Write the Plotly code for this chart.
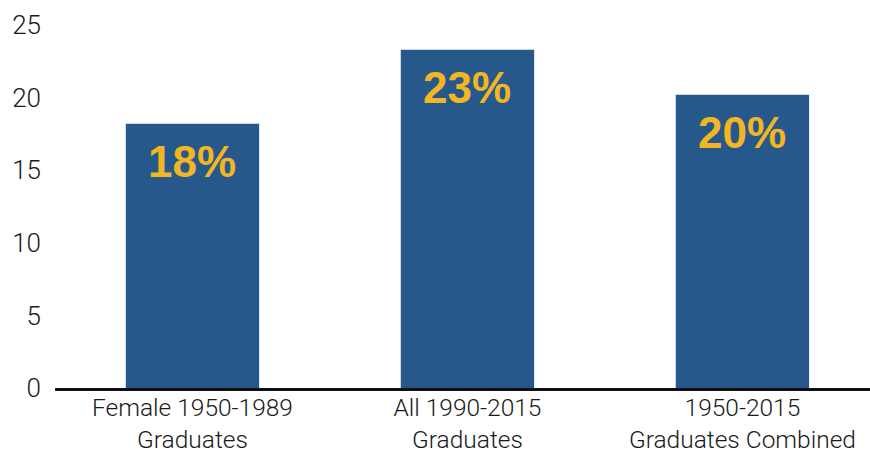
import plotly.graph_objects as go

# Share of graduates (percent)
categories = ["Female 1950-1989<br>Graduates", "All 1990-2015<br>Graduates", "1950-2015<br>Graduates Combined"]
values = [18.2, 23.3, 20.2]
y_ticks = [0, 5, 10, 15, 20, 25]

BAR_COLOR = "#27588B"
LABEL_COLOR = "#F2B623"
TEXT_COLOR = "#1a1a1a"
FONT = "Roboto"

fig = go.Figure()
fig.add_trace(go.Bar(
    x=list(range(len(categories))),
    y=values,
    marker=dict(color=BAR_COLOR, line=dict(width=0)),
    width=0.485,
    hoverinfo="skip",
))

# value labels just inside the top of each bar
for i, v in enumerate(values):
    fig.add_annotation(
        x=i, y=v, text=f"{v:.0f}%", showarrow=False,
        yanchor="top", yshift=-11,
        font=dict(family="Liberation Sans", size=44, color=LABEL_COLOR, weight="bold"),
    )

fig.update_layout(
    width=870, height=454,
    margin=dict(l=55, r=0, t=25, b=66),
    plot_bgcolor="white", paper_bgcolor="white",
    showlegend=False,
    font=dict(family=FONT, size=26, color=TEXT_COLOR, weight=300),
)
fig.update_xaxes(
    range=[-0.5, 2.464],
    tickmode="array", tickvals=list(range(len(categories))), ticktext=categories,
    tickfont=dict(size=24.5),
    showgrid=False, zeroline=False,
    showline=True, linecolor="#111111", linewidth=3,
    ticks="", ticklabelstandoff=-4, automargin=False,
)
fig.update_yaxes(
    range=[0, 25],
    tickmode="array", tickvals=y_ticks,
    showgrid=False, zeroline=False, showline=False,
    ticks="", ticklabelstandoff=13, automargin=False,
)

fig.write_html("out.html")
